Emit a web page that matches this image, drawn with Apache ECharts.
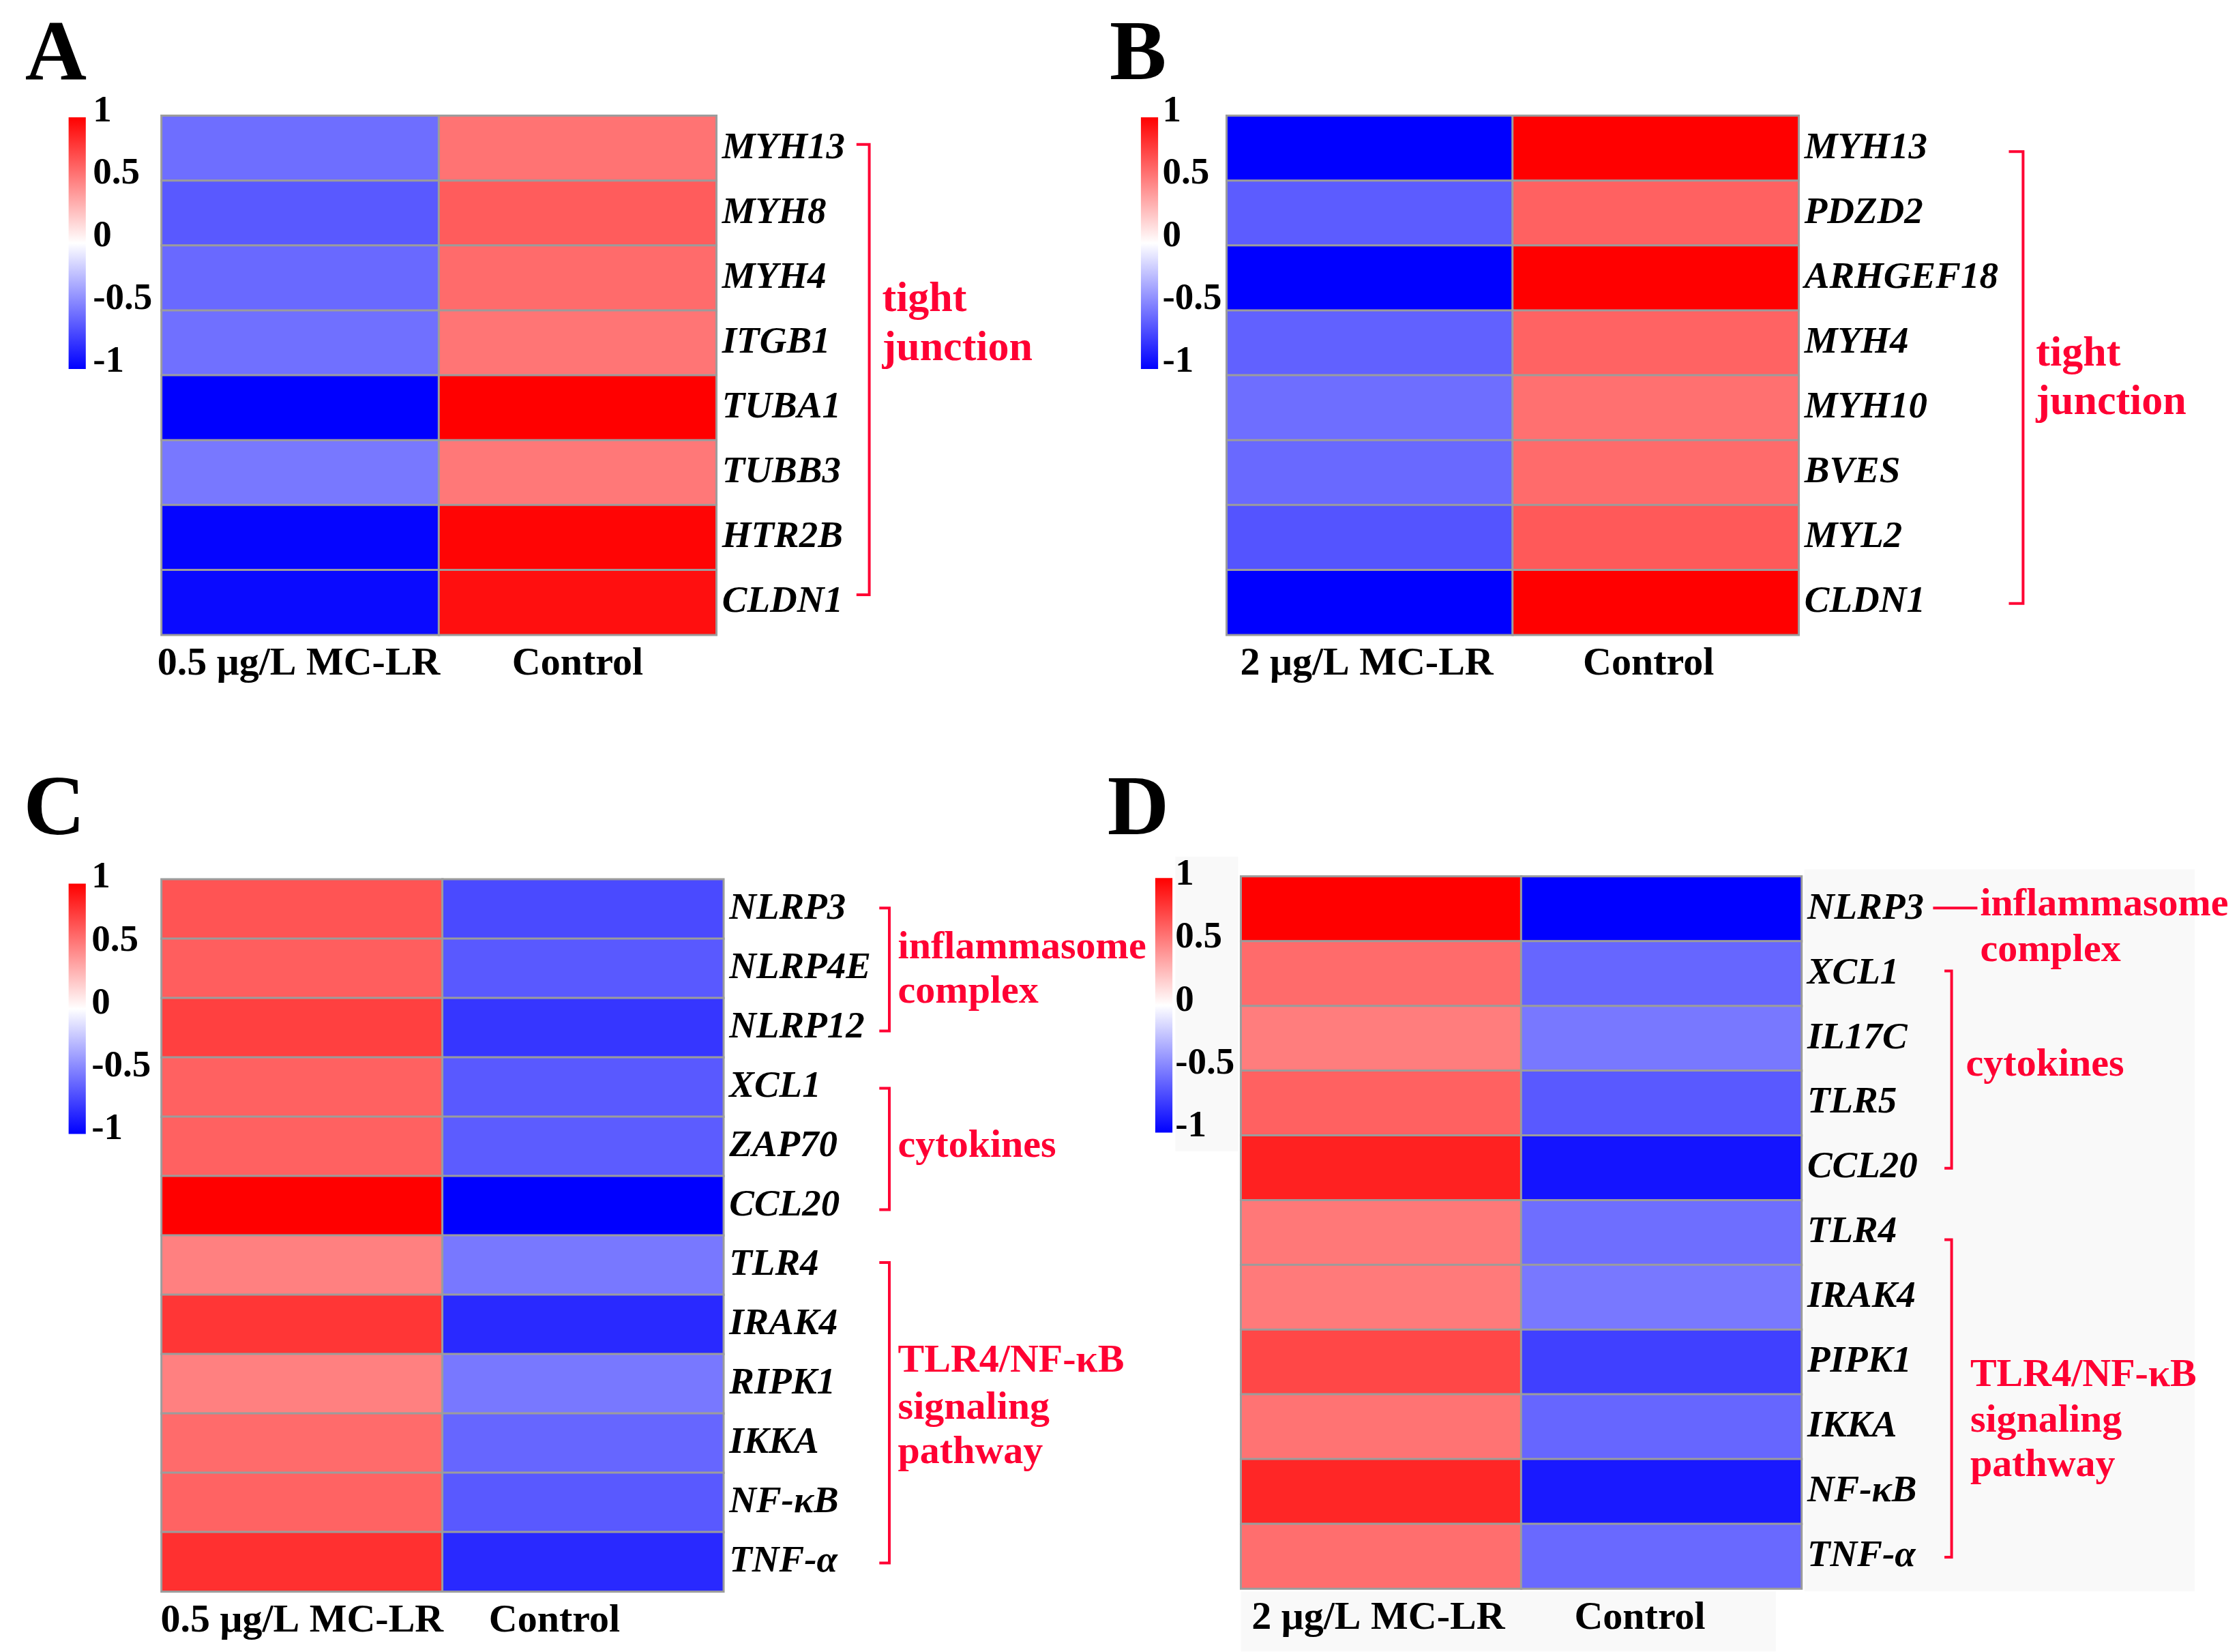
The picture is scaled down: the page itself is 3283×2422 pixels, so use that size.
<!DOCTYPE html>
<html>
<head>
<meta charset="utf-8">
<script src="https://cdn.jsdelivr.net/npm/echarts@6/dist/echarts.min.js"></script>
<style>
html,body{margin:0;padding:0;background:#fff;}
#chart{width:3283px;height:2422px;}
</style>
</head>
<body>
<div id="chart"></div>
<script>
// ---------------- data ----------------
const colLabelsA = ['0.5 μg/L MC-LR', 'Control'];
const colLabelsB = ['2 μg/L MC-LR', 'Control'];
const colLabelsC = ['0.5 μg/L MC-LR', 'Control'];
const colLabelsD = ['2 μg/L MC-LR', 'Control'];

const genesA = ['MYH13','MYH8','MYH4','ITGB1','TUBA1','TUBB3','HTR2B','CLDN1'];
const mcA    = [-0.57,-0.65,-0.59,-0.56,-1.00,-0.53,-0.98,-0.96];
const ctA    = [ 0.55, 0.64, 0.58, 0.54, 1.00, 0.53, 0.98, 0.94];

const genesB = ['MYH13','PDZD2','ARHGEF18','MYH4','MYH10','BVES','MYL2','CLDN1'];
const mcB    = [-1.00,-0.64,-1.00,-0.62,-0.57,-0.59,-0.67,-1.00];
const ctB    = [ 1.00, 0.62, 1.00, 0.61, 0.56, 0.58, 0.65, 1.00];

const genesC = ['NLRP3','NLRP4E','NLRP12','XCL1','ZAP70','CCL20','TLR4','IRAK4','RIPK1','IKKA','NF-κB','TNF-α'];
const mcC    = [ 0.67, 0.63, 0.75, 0.62, 0.62, 1.00, 0.50, 0.79, 0.50, 0.58, 0.61, 0.81];
const ctC    = [-0.71,-0.65,-0.79,-0.65,-0.64,-1.00,-0.53,-0.84,-0.53,-0.60,-0.65,-0.84];

const genesD = ['NLRP3','XCL1','IL17C','TLR5','CCL20','TLR4','IRAK4','PIPK1','IKKA','NF-κB','TNF-α'];
const mcD    = [ 1.00, 0.58, 0.51, 0.62, 0.87, 0.53, 0.52, 0.72, 0.55, 0.85, 0.57];
const ctD    = [-1.00,-0.60,-0.53,-0.65,-0.92,-0.57,-0.53,-0.75,-0.60,-0.90,-0.59];

const colorbarTicks = { min: -1, max: 1, interval: 0.5 };

// ---------------- layout ----------------
const S = 3283 / 1566;
const p = v => Math.round(v * S * 10) / 10;
const FONT = '"Liberation Serif","Times New Roman",serif';
const RED = '#ff0033';

const panels = [
  { cols: colLabelsA, genes: genesA, mc: mcA, ct: ctA, grid: [113, 81, 388, 363], cbar: [48, 82, 12, 176], cbarLab: [78, 175], cbarMargin: 5, ctrlShift: 0, mcShift: 1 },
  { cols: colLabelsB, genes: genesB, mc: mcB, ct: ctB, grid: [858, 81, 400, 363], cbar: [798, 82, 12, 176], cbarLab: [78, 175], cbarMargin: 3, ctrlShift: 5, mcShift: 2 },
  { cols: colLabelsC, genes: genesC, mc: mcC, ct: ctC, grid: [113, 615, 393, 498], cbar: [48, 618, 12, 175], cbarLab: [614, 176], cbarMargin: 4, ctrlShift: 20, mcShift: 0 },
  { cols: colLabelsD, genes: genesD, mc: mcD, ct: ctD, grid: [868, 613, 392, 498], cbar: [808, 614, 12, 178], cbarLab: [612, 176], cbarMargin: 2, ctrlShift: 15, mcShift: 2 }
];

const grids = [], xAxes = [], yAxes = [], series = [], visualMaps = [];

panels.forEach((pn, i) => {
  const [l, t, w, h] = pn.grid;
  grids.push({ left: p(l), top: p(t), width: p(w), height: p(h), containLabel: false });
  xAxes.push({
    type: 'category', gridIndex: i, data: pn.cols, position: 'bottom',
    axisLine: { show: false }, axisTick: { show: false }, splitLine: { show: false },
    axisLabel: {
      margin: p(7), interval: 0,
      formatter: v => (v === 'Control' ? '{c|' + v + '}' : '{m|' + v + '}'),
      rich: {
        c: { fontFamily: FONT, fontWeight: 'bold', fontSize: 58, color: '#000', padding: [0, p(2 * pn.ctrlShift), 0, 0] },
        m: { fontFamily: FONT, fontWeight: 'bold', fontSize: 58, color: '#000', padding: [0, p(2 * pn.mcShift), 0, 0] }
      }
    }
  });
  yAxes.push({
    type: 'category', gridIndex: i, data: pn.genes, inverse: true, position: 'right',
    axisLine: { show: false }, axisTick: { show: false }, splitLine: { show: false },
    axisLabel: { margin: p(4), fontFamily: FONT, fontStyle: 'italic', fontWeight: 'bold', fontSize: 55, color: '#000', interval: 0 }
  });
  const data = [];
  pn.genes.forEach((g, r) => {
    data.push([0, r, pn.mc[r]]);
    data.push([1, r, pn.ct[r]]);
  });
  series.push({
    type: 'heatmap', xAxisIndex: i, yAxisIndex: i, data: data,
    itemStyle: { borderColor: '#9c9c9c', borderWidth: 3 },
    emphasis: { disabled: true }, progressive: 0
  });
  visualMaps.push({
    type: 'continuous', show: false, seriesIndex: i, min: -1, max: 1,
    inRange: { color: ['#0000ff', '#ffffff', '#ff0000'] }
  });
});

// colorbar label axes
panels.forEach((pn, i) => {
  const [cx, cy, cw, ch] = pn.cbar;
  const gi = grids.length;
  grids.push({ left: p(cx), top: p(pn.cbarLab[0]), width: p(cw), height: p(pn.cbarLab[1]) });
  xAxes.push({ type: 'value', gridIndex: gi, show: false });
  yAxes.push({
    type: 'value', gridIndex: gi, position: 'right',
    min: colorbarTicks.min, max: colorbarTicks.max, interval: colorbarTicks.interval,
    axisLine: { show: false }, axisTick: { show: false }, splitLine: { show: false },
    axisLabel: { margin: p(pn.cbarMargin), fontFamily: FONT, fontWeight: 'bold', fontSize: 55, color: '#000' }
  });
});

// ---------------- graphics ----------------
const g = [];
// light backgrounds of panel D
[[822, 599, 44, 206], [1262, 608, 273, 505], [868, 1113, 374, 42]].forEach(r => {
  g.push({ type: 'rect', z: -100, silent: true, shape: { x: p(r[0]), y: p(r[1]), width: p(r[2]), height: p(r[3]) }, style: { fill: '#f9f9f9' } });
});
// colorbars
panels.forEach(pn => {
  const [cx, cy, cw, ch] = pn.cbar;
  g.push({
    type: 'rect', silent: true,
    shape: { x: p(cx), y: p(cy), width: p(cw), height: p(ch) },
    style: { fill: new echarts.graphic.LinearGradient(0, 0, 0, 1, [
      { offset: 0, color: '#ff0000' }, { offset: 0.5, color: '#ffffff' }, { offset: 1, color: '#0000ff' }
    ]) }
  });
});
// panel letters
[['A', 39, 40], ['B', 796, 40], ['C', 38, 568], ['D', 796, 568]].forEach(([txt, x, y]) => {
  g.push({ type: 'text', silent: true, x: p(x), y: p(y), style: { text: txt, fontFamily: FONT, fontWeight: 'bold', fontSize: 125, fill: '#000', align: 'center', verticalAlign: 'middle' } });
});
// brackets
function bracket(x, y1, y2, tick) {
  g.push({ type: 'polyline', silent: true, shape: { points: [[p(x - tick), p(y1)], [p(x), p(y1)], [p(x), p(y2)], [p(x - tick), p(y2)]] }, style: { stroke: RED, lineWidth: 4, fill: null } });
}
bracket(608, 101, 416, 9);
bracket(1415, 106, 422, 10);
bracket(622, 635, 721, 7);
bracket(622, 761, 846, 7);
bracket(622, 883, 1093, 7);
bracket(1365, 679, 817, 5);
bracket(1365, 867, 1089, 5);
g.push({ type: 'line', silent: true, shape: { x1: p(1352), y1: p(635), x2: p(1383), y2: p(635) }, style: { stroke: RED, lineWidth: 4 } });
// red labels
function red(txt, x, y, fs) {
  g.push({ type: 'text', silent: true, x: p(x), y: p(y), style: { text: txt, fontFamily: FONT, fontWeight: 'bold', fontSize: fs, fill: RED, align: 'left', verticalAlign: 'middle' } });
}
red('tight', 617, 210, 62); red('junction', 617, 244, 62);
red('tight', 1424, 248, 62); red('junction', 1424, 282, 62);
red('inflammasome', 628, 663, 58); red('complex', 628, 694, 58);
red('cytokines', 628, 802, 58);
red('TLR4/NF-κB', 628, 952, 58); red('signaling', 628, 985, 58); red('pathway', 628, 1016, 58);
red('inflammasome', 1385, 633, 58); red('complex', 1385, 665, 58);
red('cytokines', 1375, 745, 58);
red('TLR4/NF-κB', 1378, 962, 58); red('signaling', 1378, 994, 58); red('pathway', 1378, 1025, 58);

const chart = echarts.init(document.getElementById('chart'), null, { renderer: 'canvas' });
chart.setOption({
  backgroundColor: '#ffffff',
  animation: false,
  grid: grids, xAxis: xAxes, yAxis: yAxes,
  visualMap: visualMaps,
  series: series,
  graphic: { elements: g }
});
</script>
</body>
</html>
